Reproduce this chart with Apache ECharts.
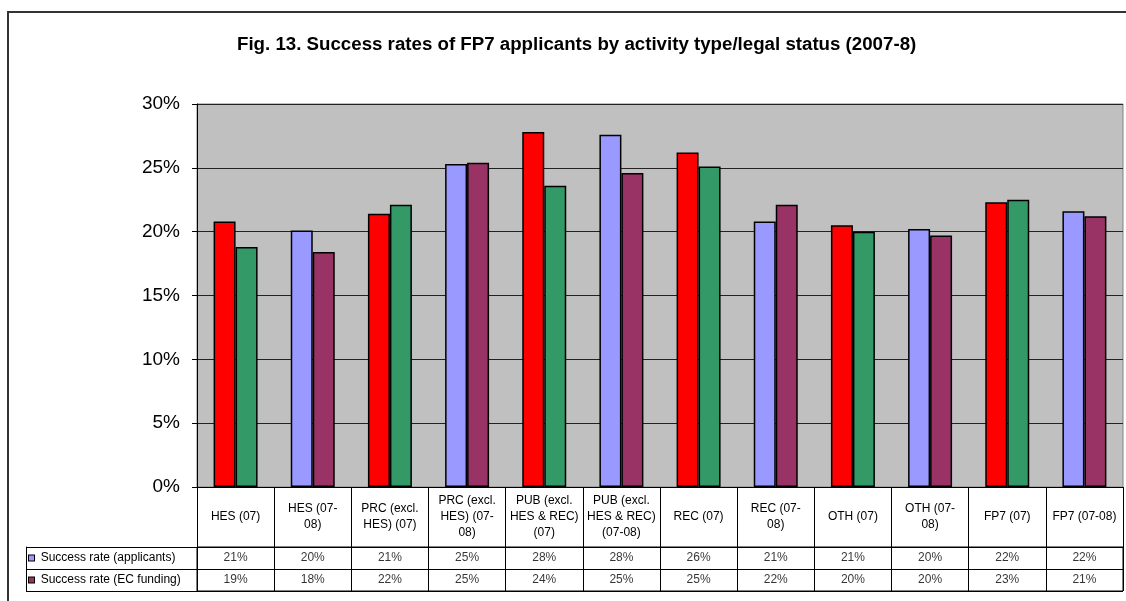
<!DOCTYPE html>
<html>
<head>
<meta charset="utf-8">
<title>FP7 success rates</title>
<script src="https://cdn.jsdelivr.net/npm/echarts@6/dist/echarts.min.js"></script>
<style>
  html, body { margin: 0; padding: 0; background: #fff; }
  #chart { width: 1126px; height: 601px; }
</style>
</head>
<body>
<div id="chart"></div>
<script>
// categories (07 = 2007 only, 07-08 = 2007-2008)
const categories = [
  'HES (07)', 'HES (07-\n08)', 'PRC (excl.\nHES) (07)', 'PRC (excl.\nHES) (07-\n08)',
  'PUB (excl.\nHES & REC)\n(07)', 'PUB (excl.\nHES & REC)\n(07-08)', 'REC (07)', 'REC (07-\n08)',
  'OTH (07)', 'OTH (07-\n08)', 'FP7 (07)', 'FP7 (07-08)'
]
// success rate (applicants), %
const applicants = [20.8, 20.1, 21.4, 25.3, 27.8, 27.6, 26.2, 20.8, 20.5, 20.2, 22.3, 21.6]
// success rate (EC funding), %
const ecFunding = [18.8, 18.4, 22.1, 25.4, 23.6, 24.6, 25.1, 22.1, 20.0, 19.7, 22.5, 21.2]
const rowNames = ['Success rate (applicants)', 'Success rate (EC funding)']
const yTicks = { min: 0, max: 30, interval: 5 }

const font = 'Liberation Sans, Arial, sans-serif'
// colours: 07 bars red/green, 07-08 bars lavender/plum
const colA = ['#FF0000', '#9999FF']
const colB = ['#339966', '#993366']

const chart = echarts.init(document.getElementById('chart'))

function barData(values, cols) {
    return values.map((v, i) => ({ value: v, itemStyle: { color: cols[i % 2] } }))
}

function cellData(values, row) {
    return values.map((v, i) => [i, row, Math.round(v)])
}

const option = {
    animation: false,
    textStyle: { fontFamily: font },
    title: {
        text: 'Fig. 13. Success rates of FP7 applicants by activity type/legal status (2007-8)',
        left: 232,
        top: 30,
        textStyle: { fontFamily: font, fontSize: 18.7, fontWeight: 'bold', color: '#000' }
    },
    graphic: [{ // outer chart frame
        type: 'rect',
        shape: { x: 8, y: 12, width: 1130, height: 600 },
        style: { fill: 'none', stroke: '#333', lineWidth: 2 },
        silent: true
    }],
    grid: [
        { left: 197, right: 3, top: 104, bottom: 114, show: true, backgroundColor: '#C0C0C0', borderColor: '#808080', borderWidth: 1 },
        { left: 197, right: 3, top: 547, height: 44, show: true, backgroundColor: '#fff', borderColor: '#000', borderWidth: 1 }
    ],
    xAxis: [
        {
            type: 'category',
            gridIndex: 0,
            data: categories,
            axisLine: { lineStyle: { color: '#000', width: 1 } },
            axisTick: { show: true, interval: 0, length: 60, lineStyle: { color: '#000' } },
            axisLabel: {
                interval: 0, margin: 30, verticalAlign: 'middle', align: 'center',
                fontSize: 12, lineHeight: 16, color: '#000', fontFamily: font
            }
        },
        {
            type: 'category',
            gridIndex: 1,
            data: categories,
            axisLine: { show: false },
            axisTick: { show: false },
            axisLabel: { show: false },
            splitLine: { show: true, interval: 0, lineStyle: { color: '#000', width: 1 } }
        }
    ],
    yAxis: [
        {
            type: 'value',
            gridIndex: 0,
            min: yTicks.min,
            max: yTicks.max,
            interval: yTicks.interval,
            axisLine: { show: true, lineStyle: { color: '#000' } },
            axisTick: { show: true, length: 5, lineStyle: { color: '#000' } },
            axisLabel: { formatter: '{value}%', fontSize: 19, color: '#000', margin: 17, fontFamily: font },
            splitLine: { show: true, lineStyle: { color: '#222', width: 1 } }
        },
        {
            type: 'category',
            gridIndex: 1,
            data: rowNames,
            inverse: true,
            axisLine: { show: true, lineStyle: { color: '#000' } },
            axisTick: { show: true, interval: 0, length: 171, lineStyle: { color: '#000' } },
            splitLine: { show: true, interval: 0, lineStyle: { color: '#000' } },
            axisLabel: {
                interval: 0,
                align: 'left',
                margin: 168,
                fontSize: 12,
                color: '#000',
                fontFamily: font,
                formatter: (v, i) => '{' + (i === 0 ? 'a' : 'b') + '|}  ' + v,
                rich: {
                    a: { width: 5, height: 5, backgroundColor: '#9999FF', borderColor: '#000', borderWidth: 1 },
                    b: { width: 5, height: 5, backgroundColor: '#993366', borderColor: '#000', borderWidth: 1 }
                }
            }
        },
        { // left edge of the legend column
            type: 'category',
            gridIndex: 1,
            data: rowNames,
            inverse: true,
            position: 'left',
            offset: 171,
            axisLine: { show: true, lineStyle: { color: '#000' } },
            axisTick: { show: false },
            axisLabel: { show: false }
        }
    ],
    series: [
        {
            name: rowNames[0],
            type: 'bar',
            xAxisIndex: 0,
            yAxisIndex: 0,
            data: barData(applicants, colA),
            barGap: '0%',
            barCategoryGap: '43%',
            itemStyle: { borderColor: '#000', borderWidth: 1.5 }
        },
        {
            name: rowNames[1],
            type: 'bar',
            xAxisIndex: 0,
            yAxisIndex: 0,
            data: barData(ecFunding, colB),
            barGap: '0%',
            barCategoryGap: '43%',
            itemStyle: { borderColor: '#000', borderWidth: 1.5 }
        },
        {
            type: 'scatter',
            xAxisIndex: 1,
            yAxisIndex: 1,
            symbolSize: 0,
            data: cellData(applicants, 0).concat(cellData(ecFunding, 1)),
            label: {
                show: true, position: 'inside', formatter: p => p.value[2] + '%',
                fontSize: 12, color: '#000', fontFamily: font
            },
            silent: true
        }
    ]
}

chart.setOption(option)
</script>
</body>
</html>
